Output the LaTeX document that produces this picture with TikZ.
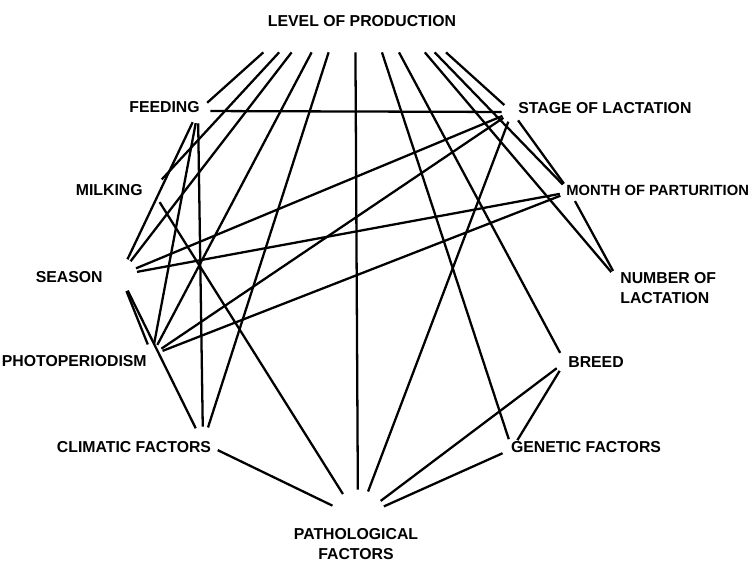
\documentclass[tikz,border=0pt]{standalone}
\usepackage{fontspec}
\setmainfont{Liberation Sans}
\begin{document}
\begin{tikzpicture}[x=0.2mm, y=-0.2mm,
    factor/.style={font=\bfseries\fontsize{9}{11}\selectfont, inner sep=0pt},
    hub/.style={circle, inner sep=0pt, minimum size=#1},
    link/.style={line width=1.3pt}]
    \useasboundingbox (0,0) rectangle (756,565);

    % Factor names
    \node[factor] (lp) at (362,21) {LEVEL OF PRODUCTION};
    \node[factor, anchor=east] (fe) at (200,107) {FEEDING};
    \node[factor, anchor=west] (sl) at (518,108) {STAGE OF LACTATION};
    \node[factor, anchor=east] (mi) at (143,190) {MILKING};
    \node[factor, anchor=west, font=\bfseries\fontsize{8.4}{10}\selectfont] (mp) at (566,190) {MONTH OF PARTURITION};
    \node[factor, anchor=east] (se) at (103,277) {SEASON};
    \node[factor, anchor=west, align=left] (nl) at (620,288) {NUMBER OF\\LACTATION};
    \node[factor, anchor=east] (ph) at (147,361) {PHOTOPERIODISM};
    \node[factor, anchor=west] (br) at (568,362) {BREED};
    \node[factor] (cf) at (134,447) {CLIMATIC FACTORS};
    \node[factor] (gf) at (586,447) {GENETIC FACTORS};
    \node[factor, align=center] (pf) at (356,544) {PATHOLOGICAL\\FACTORS};

    % Points where the links meet (invisible)
    \node[rectangle, minimum width=60mm, minimum height=32.8mm] (lp-h) at (355,-30) {};
    \node[hub=4.8mm] (fe-h) at (198,111) {};
    \node[hub=4mm]   (sl-h) at (512,112) {};
    \node[hub=5.6mm] (mi-h) at (152,190) {};
    \node[hub=4mm]   (mp-h) at (570,192) {};
    \node[hub=6.8mm] (se-h) at (120,275) {};
    \node[hub=4mm]   (nl-h) at (618,280) {};
    \node[hub=4.4mm] (ph-h) at (152,355) {};
    \node[hub=4mm]   (br-h) at (565,362) {};
    \node[hub=6.4mm] (cf-h) at (203,443) {};
    \node[hub=4mm]   (gf-h) at (512,449) {};
    \node[hub=11.2mm] (pf-h) at (358,518) {};

    % Level of production
    \foreach \f in {fe,mi,se,ph,cf,pf,gf,br,nl,mp,sl}
        \draw[link] (lp-h) -- (\f-h);

    % Feeding
    \draw[link] (fe-h) -- (sl-h);
    \draw[link] (fe-h) -- (se-h);
    \draw[link] (fe-h) -- (ph-h);
    \draw[link] (fe-h) -- (cf-h);

    % Stage of lactation and month of parturition
    \draw[link] (sl-h) -- (se-h);
    \draw[link] (sl-h) -- (ph-h);
    \draw[link] (sl-h) -- (mp-h);
    \draw[link] (sl-h) -- (pf-h);
    \draw[link] (mp-h) -- (se-h);
    \draw[link] (mp-h) -- (ph-h);
    \draw[link] (mp-h) -- (nl-h);

    % The rest
    \draw[link] (mi-h) -- (pf-h);
    \draw[link] (se-h) -- (ph-h);
    \draw[link] (se-h) -- (cf-h);
    \draw[link] (cf-h) -- (pf-h);
    \draw[link] (br-h) -- (gf-h);
    \draw[link] (br-h) -- (pf-h);
    \draw[link] (gf-h) -- (pf-h);
\end{tikzpicture}
\end{document}
